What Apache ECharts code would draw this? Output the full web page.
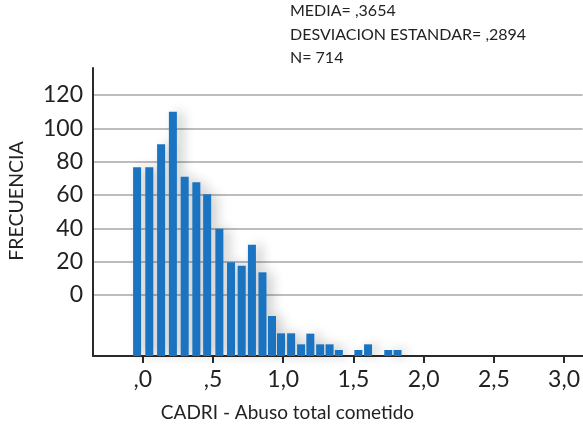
<!DOCTYPE html>
<html><head><meta charset="utf-8">
<script src="https://cdn.jsdelivr.net/npm/echarts@6/dist/echarts.min.js"></script>
<style>html,body{margin:0;padding:0;background:#fff}#c{width:583px;height:435px}</style>
</head><body><div id="c"></div>
<script>
// Histogram bar centres (x) and heights above the x axis
const binCenters = [-0.041, 0.046, 0.130, 0.214, 0.298, 0.381, 0.458, 0.545, 0.628, 0.704, 0.777, 0.852,
                    0.920, 0.984, 1.056, 1.127, 1.193, 1.263, 1.330, 1.396, 1.535, 1.604, 1.748, 1.814];
const frequencies = [113.2, 113.2, 127.0, 146.6, 107.6, 104.2, 97.0, 76.4, 56.2, 54.2, 66.8, 50.2,
                     24.0, 13.6, 13.6, 7.0, 13.4, 7.0, 7.0, 3.6, 3.6, 7.0, 3.6, 3.6];
// Axis ticks
const xTickValues = [0, 0.5, 1, 1.5, 2, 2.5, 3];
const xTickLabels = [',0', ',5', '1,0', '1,5', '2,0', '2,5', '3,0'];
const yTickLabels = [0, 20, 40, 60, 80, 100, 120];
const yLabelOffset = 36.6; // the printed "0" sits this far above the x axis
const statsLines = ['MEDIA= ,3654', 'DESVIACION ESTANDAR= ,2894', 'N= 714'];

const FONT = 'Lato';
const chart = echarts.init(document.getElementById('c'), null, {renderer: 'canvas'});
const yCustom = yTickLabels.map(v => v + yLabelOffset);

chart.setOption({
  animation: false,
  backgroundColor: '#ffffff',
  grid: {left: 93, right: 0, top: 68, bottom: 79, containLabel: false},
  xAxis: {
    type: 'value', min: -0.355, max: 3.132,
    axisLine: {show: true, onZero: false, lineStyle: {color: '#2a2a2a', width: 2}},
    axisTick: {show: true, customValues: xTickValues, length: 7, lineStyle: {color: '#2a2a2a', width: 2}},
    axisLabel: {customValues: xTickValues, margin: 12, color: '#222', fontFamily: FONT, fontSize: 23,
      formatter: v => xTickLabels[xTickValues.indexOf(v)]},
    splitLine: {show: false}
  },
  yAxis: {
    type: 'value', min: 0, max: 172.8,
    axisLine: {show: true, onZero: false, lineStyle: {color: '#2a2a2a', width: 2}},
    axisTick: {show: false, customValues: yCustom},
    axisLabel: {customValues: yCustom, margin: 10, color: '#222', fontFamily: FONT, fontSize: 23,
      formatter: v => String(Math.round(v - yLabelOffset))},
    splitLine: {show: true, lineStyle: {color: '#bdbdbd', width: 2}}
  },
  series: [{
    type: 'bar',
    barWidth: 8,
    data: binCenters.map((x, i) => [x, frequencies[i]]),
    itemStyle: {color: '#1b74c2', shadowBlur: 12, shadowColor: 'rgba(0,0,0,0.22)', shadowOffsetX: 6, shadowOffsetY: 0}
  }],
  graphic: [
    ...statsLines.map((t, i) => ({
      type: 'text', left: 290, top: 3 + i * 23.5,
      style: {text: t, fontFamily: FONT, fontSize: 16, fill: '#222'}
    })),
    {type: 'text', x: 17, y: 201, rotation: Math.PI / 2,
      style: {text: 'FRECUENCIA', fontFamily: FONT, fontSize: 19.5, fill: '#222', align: 'center', verticalAlign: 'middle'}},
    {type: 'text', x: 287.5, y: 413,
      style: {text: 'CADRI - Abuso total cometido', fontFamily: FONT, fontSize: 19, fill: '#222', align: 'center', verticalAlign: 'middle'}}
  ]
});
</script></body></html>
